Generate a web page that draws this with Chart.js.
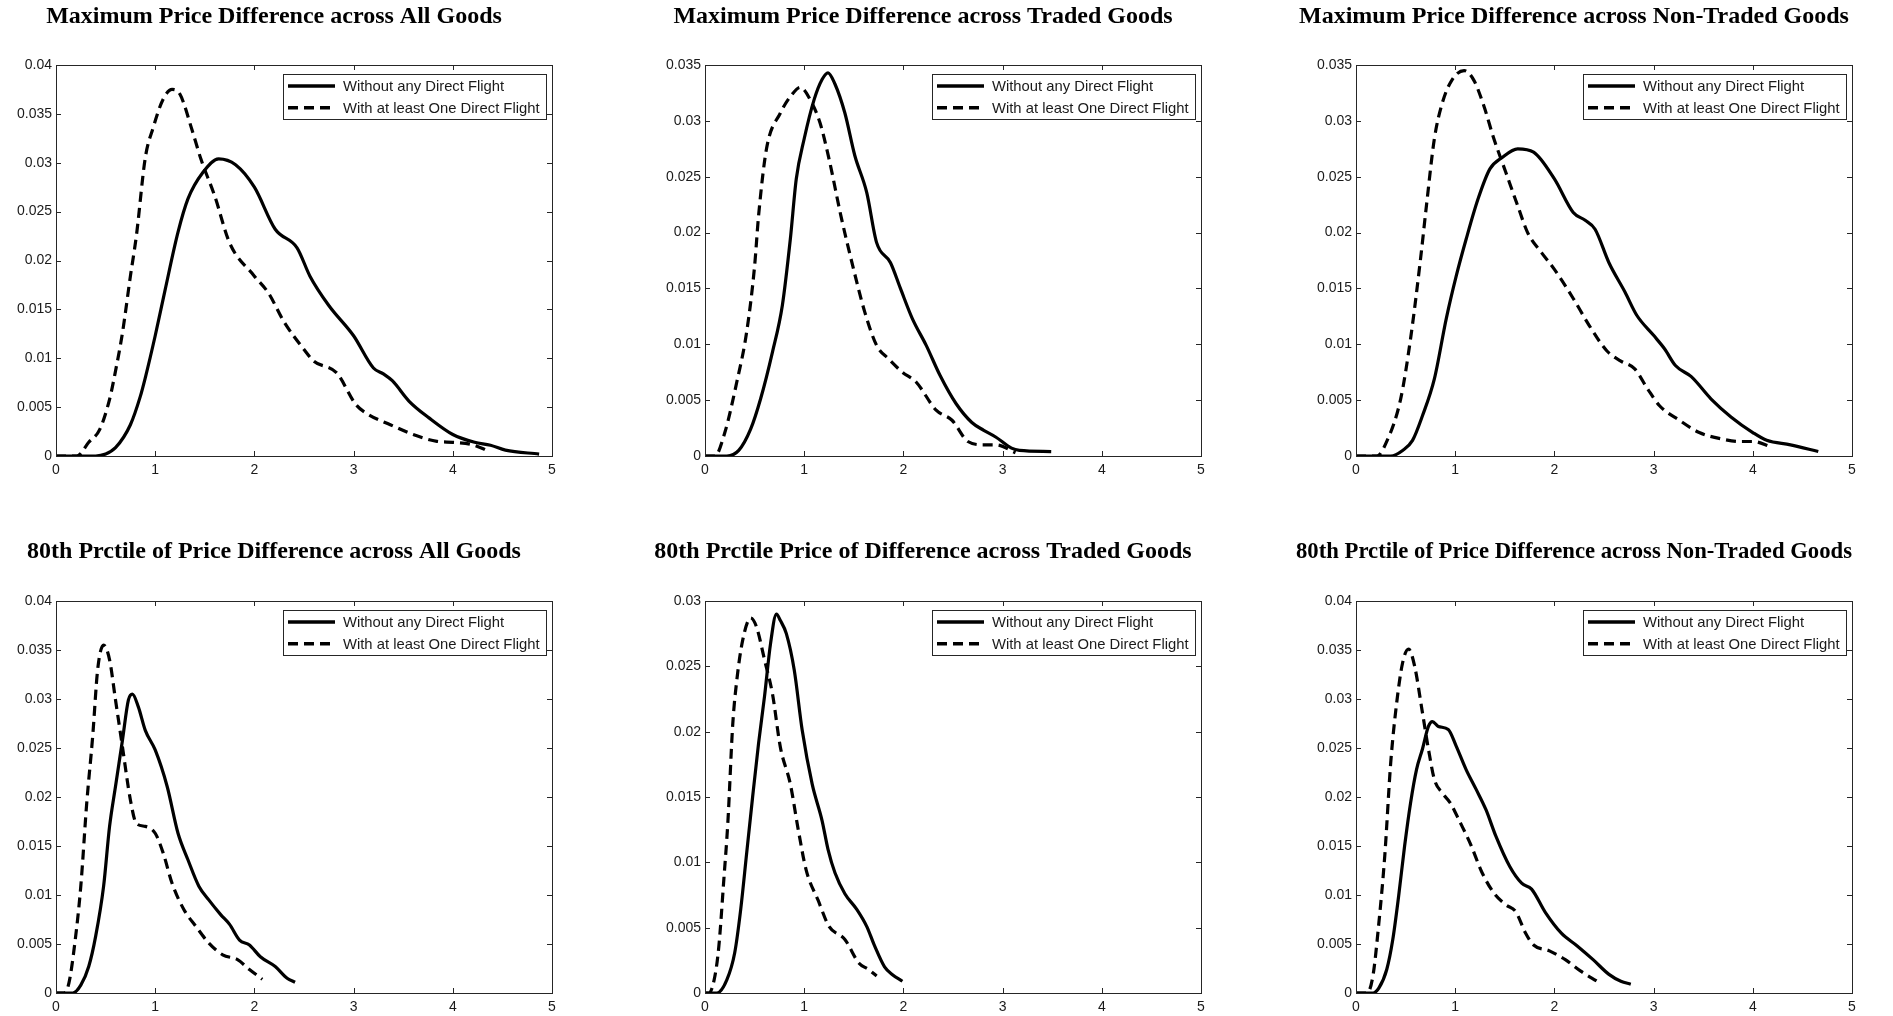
<!DOCTYPE html>
<html>
<head>
<meta charset="utf-8">
<script src="https://cdn.jsdelivr.net/npm/chart.js@4.4.1/dist/chart.umd.min.js"></script>
<style>
  html, body { margin: 0; padding: 0; background: #fff; }
  body { width: 1893px; height: 1016px; position: relative; overflow: hidden; }
  canvas { position: absolute; }
</style>
</head>
<body>
<canvas id="p1"></canvas>
<canvas id="p2"></canvas>
<canvas id="p3"></canvas>
<canvas id="p4"></canvas>
<canvas id="p5"></canvas>
<canvas id="p6"></canvas>
<script>
// values (kernel densities of log price differences)
const seriesLabels = ['Without any Direct Flight', 'With at least One Direct Flight'];
const xTickLabels = ['0', '1', '2', '3', '4', '5'];
const yTicks04 = ['0', '0.005', '0.01', '0.015', '0.02', '0.025', '0.03', '0.035', '0.04'];
const yTicks035 = ['0', '0.005', '0.01', '0.015', '0.02', '0.025', '0.03', '0.035'];
const yTicks03 = ['0', '0.005', '0.01', '0.015', '0.02', '0.025', '0.03'];

// Maximum price difference, all goods
const maxAllNoX = [0, 0.4, 0.5, 0.6, 0.75, 0.85, 0.9, 1.0, 1.1, 1.23, 1.33, 1.48, 1.64, 1.81, 2.0, 2.21, 2.43, 2.56, 2.75, 3.0, 3.2, 3.3, 3.39, 3.56, 3.76, 4.0, 4.22, 4.38, 4.53, 4.87];
const maxAllNoY = [0, 0, 0.0002, 0.00085, 0.0032, 0.0061, 0.008, 0.0123, 0.017, 0.0229, 0.0263, 0.029, 0.0304, 0.0298, 0.0275, 0.0232, 0.0213, 0.0184, 0.0154, 0.0123, 0.009, 0.0084, 0.0077, 0.0056, 0.0039, 0.0022, 0.0014, 0.0011, 0.0006, 0.0002];
const maxAllYesX = [0, 0.21, 0.33, 0.44, 0.54, 0.6, 0.67, 0.75, 0.81, 0.9, 0.98, 1.08, 1.17, 1.25, 1.37, 1.46, 1.6, 1.75, 2.0, 2.14, 2.3, 2.5, 2.6, 2.83, 3.02, 3.14, 3.37, 3.6, 3.84, 4.0, 4.18, 4.37];
const maxAllYesY = [0, 0, 0.0014, 0.0027, 0.0058, 0.0087, 0.0126, 0.0184, 0.0225, 0.0305, 0.0336, 0.0365, 0.0375, 0.037, 0.0334, 0.0304, 0.0266, 0.0218, 0.0184, 0.0167, 0.0137, 0.0109, 0.0097, 0.0085, 0.0053, 0.0043, 0.0032, 0.0022, 0.0015, 0.0014, 0.0012, 0.0005];

// Maximum price difference, traded goods
const maxTrNoX = [0, 0.22, 0.34, 0.46, 0.56, 0.68, 0.78, 0.86, 0.92, 1.0, 1.1, 1.18, 1.24, 1.31, 1.41, 1.51, 1.63, 1.73, 1.87, 1.97, 2.09, 2.23, 2.37, 2.53, 2.69, 2.81, 2.93, 3.09, 3.17, 3.49];
const maxTrNoY = [0, 0, 0.0005, 0.0024, 0.0051, 0.0093, 0.0135, 0.0194, 0.0248, 0.0284, 0.0319, 0.0337, 0.0343, 0.0333, 0.0307, 0.0269, 0.0236, 0.0191, 0.0173, 0.015, 0.0123, 0.0099, 0.0072, 0.0047, 0.003, 0.0023, 0.0017, 0.0007, 0.0005, 0.0004];
const maxTrYesX = [0, 0.1, 0.2, 0.32, 0.42, 0.5, 0.54, 0.62, 0.76, 0.88, 0.96, 1.06, 1.16, 1.25, 1.37, 1.49, 1.61, 1.73, 1.85, 1.99, 2.13, 2.33, 2.49, 2.65, 2.81, 2.93, 3.13];
const maxTrYesY = [0, 0, 0.0021, 0.0066, 0.0111, 0.017, 0.0215, 0.0275, 0.0307, 0.0324, 0.033, 0.0319, 0.0298, 0.0266, 0.0215, 0.017, 0.0129, 0.0099, 0.0087, 0.0075, 0.0066, 0.0041, 0.0032, 0.0013, 0.001, 0.001, 0.0003];

// Maximum price difference, non-traded goods
const maxNtNoX = [0, 0.35, 0.47, 0.57, 0.67, 0.79, 0.91, 1.01, 1.11, 1.23, 1.35, 1.47, 1.63, 1.79, 2.0, 2.19, 2.31, 2.41, 2.55, 2.71, 2.83, 3.0, 3.11, 3.22, 3.38, 3.58, 3.78, 4.0, 4.14, 4.38, 4.66];
const maxNtNoY = [0, 0, 0.0005, 0.0014, 0.0036, 0.0069, 0.0123, 0.0161, 0.0194, 0.023, 0.0257, 0.0267, 0.0275, 0.0272, 0.0248, 0.0218, 0.0211, 0.0203, 0.0173, 0.0147, 0.0126, 0.0108, 0.0096, 0.0081, 0.0071, 0.0051, 0.0035, 0.0021, 0.0014, 0.001, 0.0004];
const maxNtYesX = [0, 0.21, 0.31, 0.45, 0.55, 0.65, 0.71, 0.79, 0.87, 0.97, 1.09, 1.19, 1.29, 1.39, 1.51, 1.63, 1.73, 1.87, 2.0, 2.19, 2.35, 2.53, 2.67, 2.81, 2.94, 3.06, 3.26, 3.46, 3.7, 3.86, 4.0, 4.19];
const maxNtYesY = [0, 0, 0.0013, 0.0051, 0.0105, 0.0176, 0.0224, 0.0284, 0.0316, 0.0337, 0.0345, 0.0336, 0.0313, 0.0284, 0.0254, 0.0224, 0.02, 0.0182, 0.0167, 0.0141, 0.0117, 0.0094, 0.0085, 0.0078, 0.006, 0.0045, 0.0032, 0.0021, 0.0015, 0.0013, 0.0013, 0.0008];

// 80th percentile, all goods
const p80AllNoX = [0, 0.17, 0.25, 0.33, 0.4, 0.48, 0.54, 0.6, 0.67, 0.73, 0.77, 0.83, 0.9, 1.0, 1.12, 1.23, 1.33, 1.44, 1.54, 1.66, 1.75, 1.85, 1.95, 2.06, 2.21, 2.33, 2.41];
const p80AllNoY = [0, 0, 0.0008, 0.0027, 0.0058, 0.0109, 0.017, 0.0211, 0.0258, 0.0299, 0.0305, 0.0292, 0.0268, 0.0248, 0.0211, 0.0163, 0.0136, 0.0109, 0.0095, 0.008, 0.007, 0.0054, 0.0049, 0.0037, 0.0027, 0.0015, 0.0011];
const p80AllYesX = [0, 0.08, 0.13, 0.19, 0.25, 0.31, 0.37, 0.42, 0.48, 0.54, 0.6, 0.67, 0.75, 0.81, 0.9, 1.0, 1.08, 1.17, 1.29, 1.41, 1.54, 1.68, 1.83, 1.95, 2.08];
const p80AllYesY = [0, 0, 0.001, 0.0051, 0.0109, 0.0194, 0.0262, 0.033, 0.0355, 0.034, 0.0299, 0.0251, 0.0197, 0.0173, 0.017, 0.0163, 0.0143, 0.0112, 0.0085, 0.0068, 0.0051, 0.0039, 0.0034, 0.0024, 0.0014];

// 80th percentile, traded goods
const p80TrNoX = [0, 0.12, 0.22, 0.3, 0.36, 0.42, 0.48, 0.54, 0.6, 0.66, 0.72, 0.76, 0.82, 0.9, 0.98, 1.08, 1.18, 1.24, 1.31, 1.41, 1.53, 1.63, 1.71, 1.81, 1.89, 1.99];
const p80TrNoY = [0, 0, 0.001, 0.0031, 0.0064, 0.0107, 0.015, 0.0191, 0.0227, 0.0267, 0.029, 0.0285, 0.0275, 0.0247, 0.0201, 0.016, 0.0132, 0.011, 0.0092, 0.0076, 0.0064, 0.0051, 0.0036, 0.002, 0.0014, 0.0009];
const p80TrYesX = [0, 0.04, 0.1, 0.14, 0.19, 0.23, 0.28, 0.32, 0.38, 0.46, 0.52, 0.6, 0.68, 0.76, 0.86, 0.94, 1.02, 1.14, 1.25, 1.41, 1.55, 1.65, 1.73];
const p80TrYesY = [0, 0, 0.0013, 0.0036, 0.0087, 0.013, 0.0206, 0.0239, 0.027, 0.0287, 0.028, 0.0255, 0.0229, 0.0188, 0.016, 0.0125, 0.0094, 0.0071, 0.0051, 0.0041, 0.0023, 0.0018, 0.0013];

// 80th percentile, non-traded goods
const p80NtNoX = [0, 0.17, 0.23, 0.31, 0.37, 0.43, 0.49, 0.55, 0.61, 0.67, 0.73, 0.77, 0.83, 0.93, 1.01, 1.11, 1.21, 1.31, 1.41, 1.55, 1.67, 1.77, 1.91, 2.07, 2.23, 2.39, 2.55, 2.67, 2.77];
const p80NtNoY = [0, 0, 0.0005, 0.0024, 0.0054, 0.0099, 0.015, 0.0194, 0.0228, 0.0249, 0.0272, 0.0277, 0.0272, 0.0269, 0.0252, 0.0228, 0.0208, 0.0187, 0.016, 0.0129, 0.0112, 0.0106, 0.0082, 0.0061, 0.0048, 0.0034, 0.0019, 0.0012, 0.0009];
const p80NtYesX = [0, 0.11, 0.17, 0.23, 0.29, 0.35, 0.41, 0.47, 0.53, 0.59, 0.67, 0.73, 0.79, 0.87, 0.95, 1.05, 1.15, 1.27, 1.39, 1.51, 1.61, 1.71, 1.79, 1.95, 2.11, 2.27, 2.43];
const p80NtYesY = [0, 0, 0.0017, 0.0071, 0.014, 0.0235, 0.0296, 0.0337, 0.0351, 0.0334, 0.0286, 0.0249, 0.0218, 0.0204, 0.0194, 0.0174, 0.0153, 0.0123, 0.0102, 0.009, 0.0083, 0.0061, 0.0049, 0.0043, 0.0034, 0.0022, 0.0012];

const Y_AXIS_W = 60;
const X_AXIS_H = 23;
const PAD_RIGHT = 10;
const PLOT_W = 496;
const DASH = [10, 6];
const TICK_FONT = { family: '"Liberation Sans", Arial, sans-serif', size: 14 };

// box with inward ticks on all four sides, MATLAB style
const framePlugin = {
    id: 'frame',
    afterDatasetsDraw(chart) {
        const { ctx, chartArea: a, scales } = chart;
        const tl = 5;
        ctx.save();
        ctx.strokeStyle = '#262626';
        ctx.lineWidth = 1;
        ctx.beginPath();
        scales.x.ticks.forEach(t => {
            const px = Math.round(scales.x.getPixelForValue(t.value)) + 0.5;
            ctx.moveTo(px, a.bottom); ctx.lineTo(px, a.bottom - tl);
            ctx.moveTo(px, a.top); ctx.lineTo(px, a.top + tl);
        });
        scales.y.ticks.forEach(t => {
            const py = Math.round(scales.y.getPixelForValue(t.value)) + 0.5;
            ctx.moveTo(a.left, py); ctx.lineTo(a.left + tl, py);
            ctx.moveTo(a.right, py); ctx.lineTo(a.right - tl, py);
        });
        ctx.stroke();
        ctx.strokeRect(Math.round(a.left) + 0.5, Math.round(a.top) + 0.5,
            Math.round(a.right - a.left), Math.round(a.bottom - a.top));
        ctx.restore();
    }
};

// boxed legend in the upper right corner of the axes
const boxLegend = {
    id: 'boxLegend',
    afterDraw(chart) {
        const { ctx, chartArea: a } = chart;
        const w = 263, h = 45;
        const left = a.right - 6 - w, top = a.top + 9;
        ctx.save();
        ctx.fillStyle = '#fff';
        ctx.fillRect(left, top, w, h);
        ctx.strokeStyle = '#262626';
        ctx.lineWidth = 1;
        ctx.strokeRect(Math.round(left) + 0.5, Math.round(top) + 0.5, w, h);
        ctx.font = '14.8px "Liberation Sans", Arial, sans-serif';
        ctx.textBaseline = 'middle';
        chart.data.datasets.forEach((ds, i) => {
            const y = top + 12 + i * 21.7;
            ctx.strokeStyle = '#000';
            ctx.lineWidth = 3.5;
            ctx.setLineDash(ds.borderDash || []);
            ctx.beginPath();
            ctx.moveTo(left + 5, y);
            ctx.lineTo(left + 52, y);
            ctx.stroke();
            ctx.setLineDash([]);
            ctx.fillStyle = '#1a1a1a';
            ctx.fillText(ds.label, left + 60, y + 1);
        });
        ctx.restore();
    }
};

function toPoints(xs, ys) {
    return xs.map((x, i) => ({ x: x, y: ys[i] }));
}

function makePanel(id, pos, title, yLabels, noX, noY, yesX, yesY) {
    const canvas = document.getElementById(id);
    canvas.width = Y_AXIS_W + PLOT_W + PAD_RIGHT;
    canvas.height = pos.height;
    canvas.style.left = (pos.plotLeft - Y_AXIS_W) + 'px';
    canvas.style.top = pos.top + 'px';
    const yMax = Number(yLabels[yLabels.length - 1]);

    return new Chart(canvas.getContext('2d'), {
        type: 'line',
        data: {
            datasets: [{
                label: seriesLabels[0],
                data: toPoints(noX, noY),
                borderColor: '#000',
                borderWidth: 3.2,
                pointRadius: 0,
                fill: false,
                cubicInterpolationMode: 'monotone'
            }, {
                label: seriesLabels[1],
                data: toPoints(yesX, yesY),
                borderColor: '#000',
                borderWidth: 3.2,
                borderDash: DASH,
                pointRadius: 0,
                fill: false,
                cubicInterpolationMode: 'monotone'
            }]
        },
        options: {
            responsive: false,
            animation: false,
            layout: { padding: { left: 0, right: PAD_RIGHT, top: 0, bottom: 0 } },
            plugins: {
                legend: { display: false },
                tooltip: { enabled: false },
                title: {
                    display: true,
                    text: title,
                    color: '#000',
                    font: { family: '"Liberation Serif", "Times New Roman", serif', size: 24, weight: 'bold', lineHeight: 1.2 },
                    padding: { top: pos.titleTop, bottom: pos.titleBottom }
                }
            },
            scales: {
                x: {
                    type: 'linear',
                    min: 0,
                    max: 5,
                    grid: { display: false, drawTicks: false },
                    border: { display: false },
                    afterFit: s => { s.height = X_AXIS_H; },
                    ticks: {
                        stepSize: 1,
                        padding: 6,
                        color: '#1a1a1a',
                        font: TICK_FONT,
                        maxRotation: 0,
                        callback: (v, i) => xTickLabels[i]
                    }
                },
                y: {
                    min: 0,
                    max: yMax,
                    grid: { display: false, drawTicks: false },
                    border: { display: false },
                    afterFit: s => { s.width = Y_AXIS_W; },
                    ticks: {
                        stepSize: 0.005,
                        padding: 4,
                        color: '#1a1a1a',
                        font: TICK_FONT,
                        callback: (v, i) => yLabels[i]
                    }
                }
            }
        },
        plugins: [framePlugin, boxLegend]
    });
}

document.addEventListener('DOMContentLoaded', () => {
    const topRow = { top: 0, height: 456 + X_AXIS_H, titleTop: 2, titleBottom: 34.2 };
    const botRow = { top: 520, height: 1016 - 520, titleTop: 17.6, titleBottom: 34.6 };
    const cols = [56, 705, 1356];

    makePanel('p1', { ...topRow, plotLeft: cols[0] }, 'Maximum Price Difference across All Goods', yTicks04, maxAllNoX, maxAllNoY, maxAllYesX, maxAllYesY);
    makePanel('p2', { ...topRow, plotLeft: cols[1] }, 'Maximum Price Difference across Traded Goods', yTicks035, maxTrNoX, maxTrNoY, maxTrYesX, maxTrYesY);
    makePanel('p3', { ...topRow, plotLeft: cols[2] }, 'Maximum Price Difference across Non-Traded Goods', yTicks035, maxNtNoX, maxNtNoY, maxNtYesX, maxNtYesY);
    makePanel('p4', { ...botRow, plotLeft: cols[0] }, '80th Prctile of Price Difference across All Goods', yTicks04, p80AllNoX, p80AllNoY, p80AllYesX, p80AllYesY);
    makePanel('p5', { ...botRow, plotLeft: cols[1] }, '80th Prctile Price of Difference across Traded Goods', yTicks03, p80TrNoX, p80TrNoY, p80TrYesX, p80TrYesY);
    makePanel('p6', { ...botRow, plotLeft: cols[2] }, '80th Prctile of Price Difference across Non-Traded Goods', yTicks04, p80NtNoX, p80NtNoY, p80NtYesX, p80NtYesY);
});
</script>
</body>
</html>
